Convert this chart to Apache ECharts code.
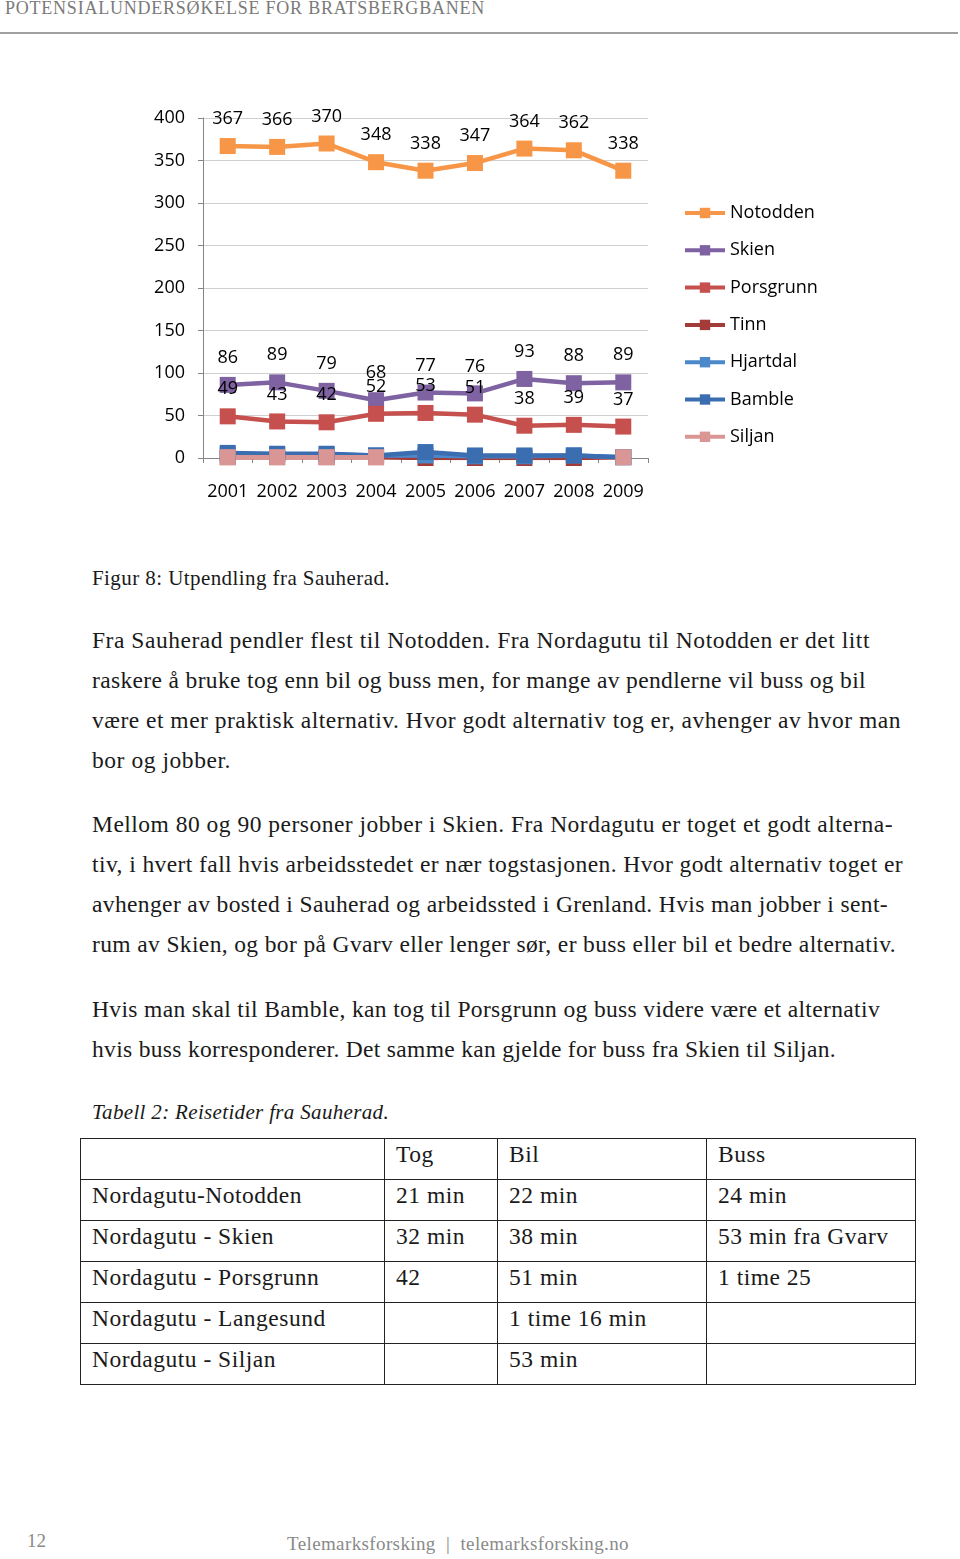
<!DOCTYPE html>
<html>
<head>
<meta charset="utf-8">
<script src="https://cdn.jsdelivr.net/npm/echarts@6/dist/echarts.min.js"></script>
<style>
  html, body { margin:0; padding:0; background:#fff; }
  body { width:960px; height:1559px; position:relative; overflow:hidden; font-family:"Liberation Serif", "DejaVu Serif", serif; color:#1a1a1a; }
  .abs { position:absolute; white-space:nowrap; }
  #hdr { left:5px; top:-2px; font-size:18px; color:#7a7a7a; }
  #hdrline { left:0; top:32px; width:958px; height:2px; background:#a0a0a0; }
  #chart { position:absolute; left:0; top:40px; width:960px; height:480px; }
  .p { font-size:23.5px; left:92px; }
  #tbl { position:absolute; left:80px; top:1138px; border-collapse:collapse; font-size:23.5px; letter-spacing:0.5px; }
  #tbl td { border:1.5px solid #222; height:40px; padding:0 0 0 11px; vertical-align:top; line-height:30px; box-sizing:border-box; }
  #foot1 { left:27px; top:1530px; font-size:19px; color:#8a8a8a; }
  #foot2 { left:287px; top:1533px; font-size:19px; color:#8a8a8a; }
</style>
</head>
<body>
<div class="abs fit" id="hdr" data-r="485">POTENSIALUNDERSØKELSE FOR BRATSBERGBANEN</div>
<div class="abs" id="hdrline"></div>
<div id="chart"></div>

<div class="abs p fit" data-r="390" style="top:566px;font-size:21px;">Figur 8: Utpendling fra Sauherad.</div>

<div class="abs p fit" data-r="870" style="top:627px;">Fra Sauherad pendler flest til Notodden. Fra Nordagutu til Notodden er det litt</div>
<div class="abs p fit" data-r="866" style="top:667px;">raskere å bruke tog enn bil og buss men, for mange av pendlerne vil buss og bil</div>
<div class="abs p fit" data-r="901" style="top:707px;">være et mer praktisk alternativ. Hvor godt alternativ tog er, avhenger av hvor man</div>
<div class="abs p fit" data-r="231" style="top:747px;">bor og jobber.</div>

<div class="abs p fit" data-r="893" style="top:811px;">Mellom 80 og 90 personer jobber i Skien. Fra Nordagutu er toget et godt alterna-</div>
<div class="abs p fit" data-r="903" style="top:851px;">tiv, i hvert fall hvis arbeidsstedet er nær togstasjonen. Hvor godt alternativ toget er</div>
<div class="abs p fit" data-r="888" style="top:891px;">avhenger av bosted i Sauherad og arbeidssted i Grenland. Hvis man jobber i sent-</div>
<div class="abs p fit" data-r="896" style="top:931px;">rum av Skien, og bor på Gvarv eller lenger sør, er buss eller bil et bedre alternativ.</div>

<div class="abs p fit" data-r="880" style="top:996px;">Hvis man skal til Bamble, kan tog til Porsgrunn og buss videre være et alternativ</div>
<div class="abs p fit" data-r="836" style="top:1036px;">hvis buss korresponderer. Det samme kan gjelde for buss fra Skien til Siljan.</div>

<div class="abs p fit" data-r="389" style="top:1100px;font-size:21px;font-style:italic;">Tabell 2: Reisetider fra Sauherad.</div>

<table id="tbl">
  <tr><td style="width:304px;height:41px"></td><td style="width:113px">Tog</td><td style="width:209px">Bil</td><td style="width:209px">Buss</td></tr>
  <tr><td style="height:41px">Nordagutu-Notodden</td><td>21 min</td><td>22 min</td><td>24 min</td></tr>
  <tr><td style="height:41px">Nordagutu - Skien</td><td>32 min</td><td>38 min</td><td>53 min fra Gvarv</td></tr>
  <tr><td style="height:41px">Nordagutu - Porsgrunn</td><td>42</td><td>51 min</td><td>1 time 25</td></tr>
  <tr><td style="height:41px">Nordagutu - Langesund</td><td></td><td>1 time 16 min</td><td></td></tr>
  <tr><td style="height:41px">Nordagutu - Siljan</td><td></td><td>53 min</td><td></td></tr>
</table>

<div class="abs" id="foot1">12</div>
<div class="abs fit" id="foot2" data-r="629">Telemarksforsking &nbsp;|&nbsp; telemarksforsking.no</div>

<script>
// fit text lines to the reference widths via letter-spacing
document.querySelectorAll('.fit').forEach(el => {
  const left = el.offsetLeft;
  const target = parseFloat(el.dataset.r) - left;
  const w = el.getBoundingClientRect().width;
  const n = el.textContent.length;
  el.style.letterSpacing = ((target - w) / n) + 'px';
});

const years = ['2001','2002','2003','2004','2005','2006','2007','2008','2009'];
const notodden  = [367, 366, 370, 348, 338, 347, 364, 362, 338];
const skien     = [86, 89, 79, 68, 77, 76, 93, 88, 89];
const porsgrunn = [49, 43, 42, 52, 53, 51, 38, 39, 37];
const tinn      = [1, 1, 1, 1, 0, 0, 0, 0, 1];
const hjartdal  = [4, 4, 4, 3, 3, 2, 2, 3, 1];
const bamble    = [6, 5, 5, 3, 7, 3, 3, 3, 1];
const siljan    = [1, 1, 1, 1, null, null, null, null, 1];
const yTicks = { min: 0, max: 400, interval: 50 };

const seriesDefs = [
  { name: 'Notodden',  data: notodden,  color: '#F79646', label: true },
  { name: 'Skien',     data: skien,     color: '#7E62A1', label: true },
  { name: 'Porsgrunn', data: porsgrunn, color: '#C5504D', label: true },
  { name: 'Tinn',      data: tinn,      color: '#A33B39', label: false },
  { name: 'Hjartdal',  data: hjartdal,  color: '#4C89CB', label: false },
  { name: 'Bamble',    data: bamble,    color: '#3B6DB1', label: false },
  { name: 'Siljan',    data: siljan,    color: '#D99694', label: false }
];

const FONT = 'Open Sans';
const chart = echarts.init(document.getElementById('chart'), null, { renderer: 'canvas' });
chart.setOption({
  animation: false,
  textStyle: { fontFamily: FONT },
  grid: { left: 203, top: 78, width: 445, height: 340, containLabel: false },
  legend: {
    orient: 'vertical', left: 678, top: 158,
    itemWidth: 40, itemHeight: 13, itemGap: 17.3,
    lineStyle: { width: 4 },
    textStyle: { fontFamily: FONT, fontSize: 18, color: '#000', lineHeight: 20 },
    data: seriesDefs.map(s => s.name)
  },
  xAxis: {
    type: 'category', data: years, boundaryGap: true,
    axisLine: { lineStyle: { color: '#868686', width: 1 } },
    axisTick: { show: true, length: 5, lineStyle: { color: '#868686' } },
    axisLabel: { interval: 0, fontFamily: FONT, fontSize: 18, color: '#000', margin: 25 }
  },
  yAxis: {
    type: 'value', min: yTicks.min, max: yTicks.max, interval: yTicks.interval,
    axisLine: { show: true, lineStyle: { color: '#868686', width: 1 } },
    axisTick: { show: true, length: 5, lineStyle: { color: '#868686' } },
    axisLabel: { fontFamily: FONT, fontSize: 18, color: '#000', margin: 18 },
    splitLine: { lineStyle: { color: '#D0D0D0', width: 1 } }
  },
  series: seriesDefs.map(s => ({
    name: s.name, type: 'line', data: s.data,
    color: s.color,
    symbol: 'rect', symbolSize: 16,
    lineStyle: { width: 4.5, color: s.color },
    itemStyle: { color: s.color },
    connectNulls: false,
    label: { show: s.label, position: 'top', distance: 10, fontFamily: FONT, fontSize: 18, color: '#000' }
  }))
});
</script>
</body>
</html>
